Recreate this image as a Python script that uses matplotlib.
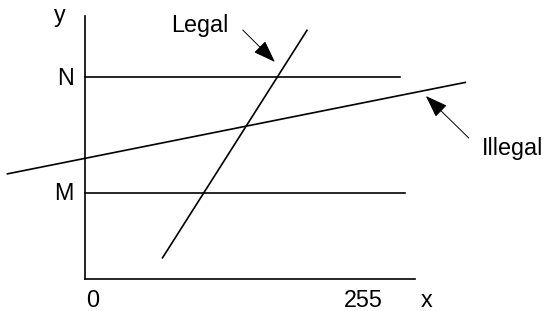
import matplotlib
matplotlib.use("Agg")
import matplotlib.pyplot as plt

plt.rcParams['font.family'] = ['Liberation Sans', 'DejaVu Sans']

# axis extents (data units, x in grey levels 0..255)
x_axis_end = 311
y_axis_top = 247

# horizontal levels N and M: (y, x_end)
level_names = ["N", "M"]
level_y = [190, 81]
level_x_end = [297, 301]
level_label_pos = [(-18, 182.6), (-20, 74.3)]

# the two candidate lines, as end points
legal_x = [73, 209]
legal_y = [20, 234]
illegal_x = [-73, 358]
illegal_y = [99, 185]

# arrow annotations: text pos (baseline), arrow tail, arrow tip
legal_text_pos = (107.7, 232.4)
legal_tail = (148.5, 234.3)
legal_tip = (178.8, 204.2)
illegal_text_pos = (402.7, 116.7)
illegal_tail = (361.3, 132.7)
illegal_tip = (320.9, 172.2)

# axis labels (baseline positions)
tick_labels = ["0", "255"]
tick_label_x = [7.1, 261.6]
label_baseline = -26.3

fig = plt.figure(figsize=(5.46, 3.11), dpi=100)
ax = fig.add_axes([0, 0, 1, 1])
ax.set_xlim(-80, 434)
ax.set_ylim(-30, 262.5)
ax.axis('off')

lw = 1.2
fs = 16.8

# axes
ax.plot([0, x_axis_end], [0, 0], color='black', lw=lw)
ax.plot([0, 0], [0, y_axis_top], color='black', lw=lw)

# levels
for name, yv, xe, pos in zip(level_names, level_y, level_x_end, level_label_pos):
    ax.plot([0, xe], [yv, yv], color='black', lw=lw)
    ax.text(*pos, name, fontsize=fs, ha='center', va='baseline')

ax.plot(legal_x, legal_y, color='black', lw=lw)
ax.plot(illegal_x, illegal_y, color='black', lw=lw)

for t, xv in zip(tick_labels, tick_label_x):
    ax.text(xv, label_baseline, t, fontsize=fs, ha='center', va='baseline')
ax.text(321.8, label_baseline, "x", fontsize=fs, ha='center', va='baseline')
ax.text(-23.5, 241.8, "y", fontsize=fs, ha='center', va='baseline')

arrow = dict(arrowstyle='-|>,head_length=1.4,head_width=0.5', color='black',
             lw=0.7, shrinkA=0, shrinkB=0, mutation_scale=10)
ax.annotate("", xy=legal_tip, xytext=legal_tail, arrowprops=arrow)
ax.annotate("", xy=illegal_tip, xytext=illegal_tail, arrowprops=arrow)
ax.text(*legal_text_pos, "Legal", fontsize=fs, ha='center', va='baseline')
ax.text(*illegal_text_pos, "Illegal", fontsize=fs, ha='center', va='baseline')

fig.savefig("out.png", dpi=100, facecolor='white')
